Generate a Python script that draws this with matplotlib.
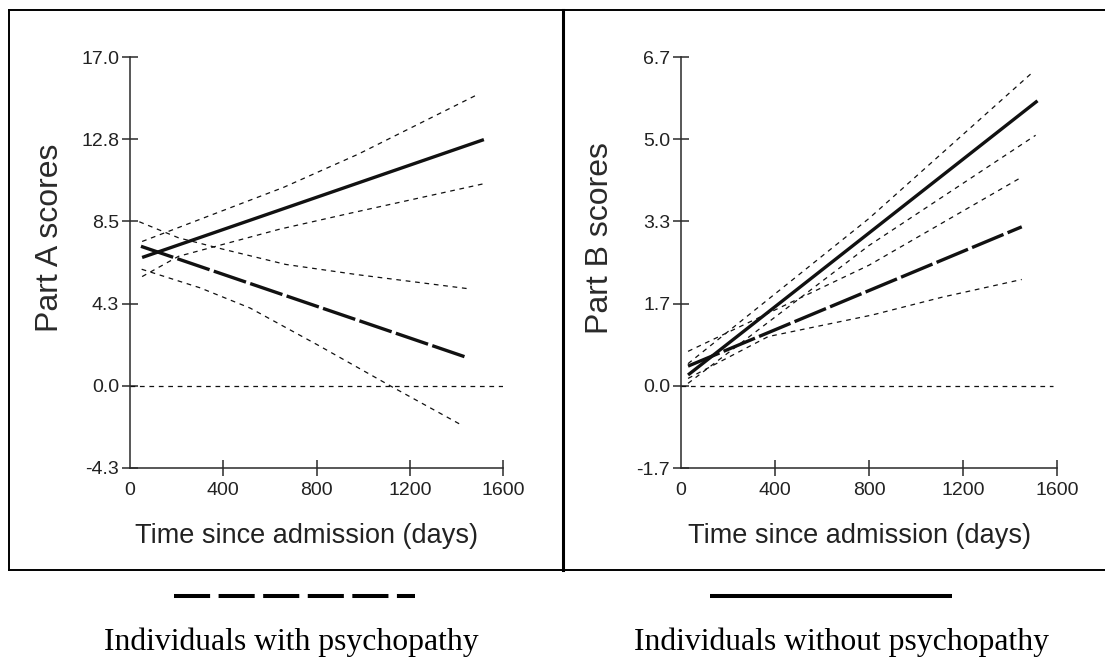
import matplotlib.pyplot as plt
from matplotlib.lines import Line2D

plt.rcParams['font.family'] = ['Liberation Sans', 'DejaVu Sans']
plt.rcParams['lines.scale_dashes'] = False

# ---- Part A (left panel) ----
a_psych_days = [47, 1452]
a_psych = [7.23, 1.44]
a_nonpsych_days = [52, 1518]
a_nonpsych = [6.65, 12.76]

a_nonpsych_hi_days = [52, 658, 980, 1495]
a_nonpsych_hi = [7.48, 10.28, 12.01, 15.12]
a_nonpsych_lo_days = [52, 208, 643, 958, 1513]
a_nonpsych_lo = [5.66, 6.71, 8.12, 8.98, 10.46]
a_psych_hi_days = [40, 208, 392, 668, 975, 1452]
a_psych_hi = [8.5, 7.67, 7.10, 6.29, 5.76, 5.03]
a_psych_lo_days = [50, 300, 515, 806, 1128, 1429]
a_psych_lo = [6.04, 5.08, 4.03, 2.11, -0.08, -2.08]
a_zero_days = [0, 1600]

a_yticks = [-4.26, 0.0, 4.26, 8.52, 12.78, 17.04]

# ---- Part B (right panel) ----
b_psych_days = [30, 1450]
b_psych = [0.40, 3.23]
b_nonpsych_days = [30, 1517]
b_nonpsych = [0.22, 5.79]

b_nonpsych_hi_days = [30, 800, 1494]
b_nonpsych_hi = [0.45, 3.40, 6.36]
b_nonpsych_lo_days = [30, 800, 1509]
b_nonpsych_lo = [0.05, 2.85, 5.09]
b_psych_hi_days = [30, 800, 1450]
b_psych_hi = [0.70, 2.45, 4.24]
b_psych_lo_days = [30, 371, 815, 1111, 1450]
b_psych_lo = [0.15, 1.00, 1.44, 1.80, 2.16]
b_zero_days = [0, 1585]

b_yticks = [-1.67, 0.0, 1.67, 3.34, 5.01, 6.68]

xticks = [0, 400, 800, 1200, 1600]

W, H = 1105, 658
fig = plt.figure(figsize=(W / 100, H / 100), dpi=100)


def fx(px):
    return px / W


def fy(py):
    return 1 - py / H


ink = '#111111'
axis_ink = '#2a2a2a'
ci = dict(color=ink, lw=0.9, dashes=(3.4, 3.4))
fit_lw = 2.4


def setup(ax, yticks, ylabel):
    ax.set_xlim(0, 1600)
    ax.set_ylim(yticks[0], yticks[-1])
    for s in ('top', 'right'):
        ax.spines[s].set_visible(False)
    for s in ('left', 'bottom'):
        ax.spines[s].set_linewidth(1.1)
        ax.spines[s].set_color(axis_ink)
    ax.set_xticks(xticks)
    ax.set_xticklabels([str(t) for t in xticks])
    ax.set_yticks(yticks)
    ax.set_yticklabels([f'{t:.1f}' for t in yticks])
    ax.tick_params(direction='inout', length=11.5, width=1.1, color=axis_ink,
                   labelsize=14, labelcolor='#222222')
    ax.tick_params(axis='x', pad=4)
    ax.tick_params(axis='y', pad=2)
    ax.xaxis.get_major_ticks()[0].tick1line.set_visible(False)
    ax.set_xlabel('Time since admission (days)', fontsize=19.5, color='#222222')
    ax.xaxis.set_label_coords(0.474, -0.165)
    ax.xaxis.label.set_va('center')
    ax.set_ylabel(ylabel, fontsize=23, color='#2a2a2a', va='center')
    ax.yaxis.set_label_coords(-0.215, 0.56)
    ax.patch.set_visible(False)


ax_a = fig.add_axes([fx(130), fy(468), (503 - 130) / W, (468 - 57) / H])
ax_a.plot(a_zero_days, [0, 0], **ci)
ax_a.plot(a_nonpsych_hi_days, a_nonpsych_hi, **ci)
ax_a.plot(a_nonpsych_lo_days, a_nonpsych_lo, **ci)
ax_a.plot(a_psych_hi_days, a_psych_hi, **ci)
ax_a.plot(a_psych_lo_days, a_psych_lo, **ci)
ax_a.plot(a_nonpsych_days, a_nonpsych, color=ink, lw=fit_lw, solid_capstyle='butt')
ax_a.plot(a_psych_days, a_psych, color=ink, lw=fit_lw, dashes=(24.5, 3.2))
setup(ax_a, a_yticks, 'Part A scores')

ax_b = fig.add_axes([fx(681), fy(468), (1057 - 681) / W, (468 - 57) / H])
ax_b.plot(b_zero_days, [0, 0], **ci)
ax_b.plot(b_nonpsych_hi_days, b_nonpsych_hi, **ci)
ax_b.plot(b_nonpsych_lo_days, b_nonpsych_lo, **ci)
ax_b.plot(b_psych_hi_days, b_psych_hi, **ci)
ax_b.plot(b_psych_lo_days, b_psych_lo, **ci)
ax_b.plot(b_nonpsych_days, b_nonpsych, color=ink, lw=fit_lw, solid_capstyle='butt')
ax_b.plot(b_psych_days, b_psych, color=ink, lw=fit_lw, dashes=(24.5, 3.2))
setup(ax_b, b_yticks, 'Part B scores')

# outer frame around both panels
frame = [((9, 1105), (10, 10), 1.4), ((9, 1105), (570, 570), 1.4),
         ((9, 9), (10, 570), 1.4), ((563, 563), (10, 570), 2.2)]
for xs, ys, lw in frame:
    fig.add_artist(Line2D([fx(x) for x in xs], [fy(y) for y in ys],
                          color='black', lw=lw, solid_capstyle='projecting'))

# legend keys under each panel
fig.add_artist(Line2D([fx(174), fx(415)], [fy(596), fy(596)], color='black',
                      lw=2.9, dashes=(26, 6.1), dash_capstyle='butt'))
fig.add_artist(Line2D([fx(710), fx(952)], [fy(596), fy(596)], color='black',
                      lw=2.9, solid_capstyle='butt'))
fig.text(fx(291), fy(650), 'Individuals with psychopathy', ha='center',
         va='baseline', family='Liberation Serif', size=22.8, color='black')
fig.text(fx(841), fy(650), 'Individuals without psychopathy', ha='center',
         va='baseline', family='Liberation Serif', size=22.8, color='black')

fig.savefig('out.png', dpi=100, facecolor='white')
